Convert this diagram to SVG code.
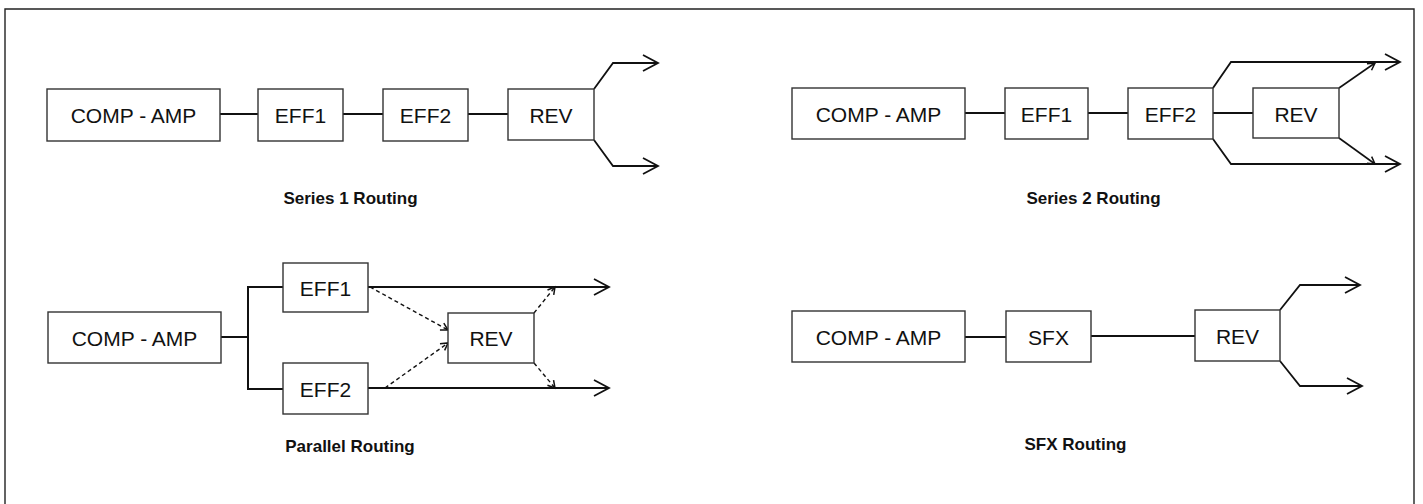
<svg xmlns="http://www.w3.org/2000/svg" width="1423" height="504" viewBox="0 0 1423 504">
<style>
.frame{fill:none;stroke:#222;stroke-width:1.4}
.box rect{fill:#fff;stroke:#333;stroke-width:1.4}
.box text{font-family:"Liberation Sans",Arial,sans-serif;font-size:21px;fill:#111;text-anchor:middle}
.cap{font-family:"Liberation Sans",Arial,sans-serif;font-size:17px;font-weight:bold;fill:#111;text-anchor:middle}
.ln{fill:none;stroke:#111;stroke-width:2}
.out{fill:none;stroke:#111;stroke-width:1.8;marker-end:url(#chev)}
.sm{fill:none;stroke:#111;stroke-width:1.6;marker-end:url(#small)}
.dash{fill:none;stroke:#111;stroke-width:1.4;stroke-dasharray:4 3;marker-end:url(#small)}
</style>
<defs>
<marker id="chev" markerUnits="userSpaceOnUse" markerWidth="18" markerHeight="20" viewBox="0 0 18 20" refX="16" refY="10" orient="auto">
<path d="M1,2 L16,10 L1,18" fill="none" stroke="#111" stroke-width="1.8"/>
</marker>
<marker id="small" markerUnits="userSpaceOnUse" markerWidth="10" markerHeight="10" viewBox="0 0 10 10" refX="8" refY="5" orient="auto">
<path d="M1,1 L8,5 L1,9" fill="none" stroke="#111" stroke-width="1.5"/>
</marker>
</defs>
<path class="frame" d="M5,504 V9 H1414 V504"/>

<g id="connectors">
<!-- Series 1 -->
<path class="ln" d="M220,114 H258 M343,114 H383 M468,114 H508"/>
<path class="out" d="M594,89 L613,63 H658"/>
<path class="out" d="M594,140 L613,166 H658"/>
<!-- Series 2 -->
<path class="ln" d="M965,113 H1005 M1088,113 H1128 M1213,113 H1253"/>
<path class="out" d="M1213,88 L1231,62 H1400"/>
<path class="out" d="M1213,139 L1231,164 H1400"/>
<path class="sm" d="M1339,88 L1375,63"/>
<path class="sm" d="M1339,138 L1375,164"/>
<!-- Parallel -->
<path class="ln" d="M221,337 H248 M283,287 H248 V389 H283"/>
<path class="out" d="M368,287 H609"/>
<path class="out" d="M368,388 H609"/>
<path class="dash" d="M370,287 L448,330"/>
<path class="dash" d="M385,388 L448,343"/>
<path class="dash" d="M534,313 L555,287"/>
<path class="dash" d="M534,363 L555,388"/>
<!-- SFX -->
<path class="ln" d="M965,337 H1006 M1091,336 H1195"/>
<path class="out" d="M1280,310 L1300,285 H1360"/>
<path class="out" d="M1280,361 L1300,386 H1362"/>
</g>

<g id="s1-comp" class="box"><rect x="47" y="89" width="173" height="52"/><text x="133.5" y="122.5">COMP - AMP</text></g>
<g id="s1-eff1" class="box"><rect x="258" y="89" width="85" height="52"/><text x="300.5" y="122.5">EFF1</text></g>
<g id="s1-eff2" class="box"><rect x="383" y="89" width="85" height="52"/><text x="425.5" y="122.5">EFF2</text></g>
<g id="s1-rev" class="box"><rect x="508" y="89" width="86" height="51"/><text x="551" y="122.5">REV</text></g>
<text class="cap" x="350.5" y="204">Series 1 Routing</text>

<g id="s2-comp" class="box"><rect x="792" y="88" width="173" height="51"/><text x="878.5" y="121.5">COMP - AMP</text></g>
<g id="s2-eff1" class="box"><rect x="1005" y="88" width="83" height="51"/><text x="1046.5" y="121.5">EFF1</text></g>
<g id="s2-eff2" class="box"><rect x="1128" y="88" width="85" height="51"/><text x="1170.5" y="121.5">EFF2</text></g>
<g id="s2-rev" class="box"><rect x="1253" y="88" width="86" height="50"/><text x="1296" y="121.5">REV</text></g>
<text class="cap" x="1093.5" y="204">Series 2 Routing</text>

<g id="p-comp" class="box"><rect x="48" y="312" width="173" height="51"/><text x="134.5" y="345.5">COMP - AMP</text></g>
<g id="p-eff1" class="box"><rect x="283" y="263" width="85" height="49"/><text x="325.5" y="295.5">EFF1</text></g>
<g id="p-eff2" class="box"><rect x="283" y="363" width="85" height="51"/><text x="325.5" y="396.5">EFF2</text></g>
<g id="p-rev" class="box"><rect x="448" y="313" width="86" height="50"/><text x="491" y="345.5">REV</text></g>
<text class="cap" x="350" y="452">Parallel Routing</text>

<g id="x-comp" class="box"><rect x="792" y="311" width="173" height="51"/><text x="878.5" y="344.5">COMP - AMP</text></g>
<g id="x-sfx" class="box"><rect x="1006" y="311" width="85" height="51"/><text x="1048.5" y="344.5">SFX</text></g>
<g id="x-rev" class="box"><rect x="1195" y="310" width="85" height="51"/><text x="1237.5" y="343.5">REV</text></g>
<text class="cap" x="1075.5" y="450">SFX Routing</text>
</svg>
